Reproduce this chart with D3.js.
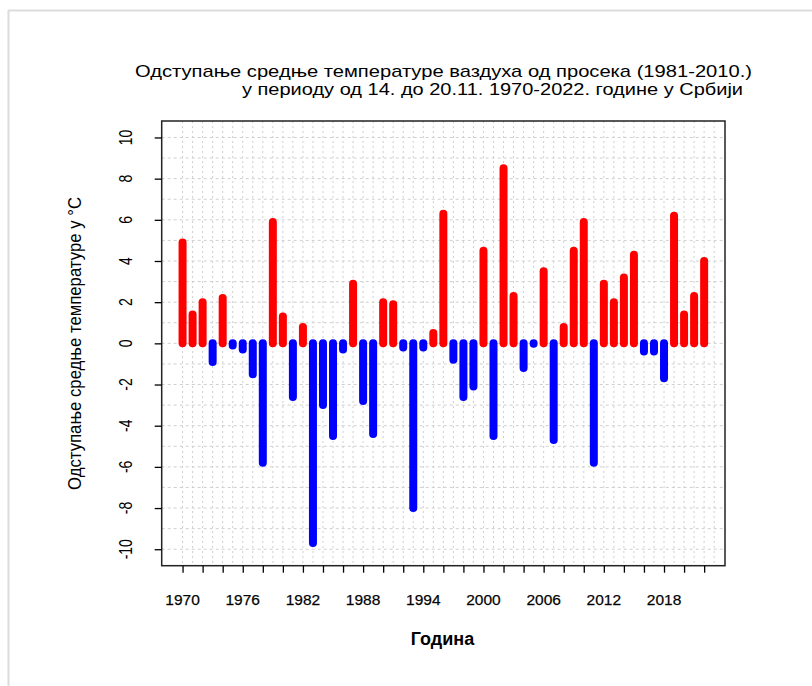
<!DOCTYPE html>
<html>
<head>
<meta charset="utf-8">
<script src="https://cdn.jsdelivr.net/npm/d3@7"></script>
<style>
  html, body { margin: 0; padding: 0; background: #fff; }
  svg { display: block; }
  text { font-family: "Liberation Sans", Arial, sans-serif; fill: #000; }
</style>
</head>
<body>
<svg id="chart" width="812" height="686"></svg>
<script>
const years = d3.range(1970, 2023);
const anomalies = [
  4.9, 1.4, 2.0, -0.9, 2.2, -0.1, -0.3, -1.5, -5.8, 5.9,
  1.3, -2.6, 0.8, -9.7, -3.0, -4.5, -0.3, 2.9, -2.8, -4.4,
  2.0, 1.9, -0.2, -8.0, -0.2, 0.5, 6.3, -0.8, -2.6, -2.1,
  4.5, -4.5, 8.5, 2.3, -1.2, -0.02, 3.5, -4.7, 0.8, 4.5,
  5.9, -5.8, 2.9, 2.0, 3.2, 4.3, -0.4, -0.4, -1.7, 6.2,
  1.4, 2.3, 4.0
];
const xTickValues = d3.range(1970, 2023, 2);
const xLabelValues = [1970, 1976, 1982, 1988, 1994, 2000, 2006, 2012, 2018];
const yTickValues = [-10, -8, -6, -4, -2, 0, 2, 4, 6, 8, 10];
const titleLines = [
  "Одступање средње температуре ваздуха од просека (1981-2010.)",
  "у периоду од 14. до 20.11. 1970-2022. године у Србији"
];
const yTitle = "Одступање средње температуре у °C";
const xTitle = "Година";

const svg = d3.select("#chart");
const L = 161.7, R = 725, T = 121, B = 565.7;

// outer light frame
svg.append("line").attr("x1", 8).attr("x2", 812).attr("y1", 10.5).attr("y2", 10.5)
  .attr("stroke", "#dcdcdc").attr("stroke-width", 2);
svg.append("line").attr("x1", 8.5).attr("x2", 8.5).attr("y1", 10).attr("y2", 686)
  .attr("stroke", "#dcdcdc").attr("stroke-width", 2);

const x = d3.scaleLinear().domain([1967.92, 2024.08]).range([L, R]);
const y = d3.scaleLinear().domain([-10.8, 10.8]).range([B, T]);

// grid
const g = svg.append("g");
g.selectAll(".hg").data(d3.range(-10, 11)).join("line")
  .attr("x1", L).attr("x2", R)
  .attr("y1", d => y(d)).attr("y2", d => y(d))
  .attr("stroke", "#cfcfcf").attr("stroke-width", 1).attr("stroke-dasharray", "3,3");
g.selectAll(".vg").data(d3.range(1970, 2024)).join("line")
  .attr("x1", d => x(d)).attr("x2", d => x(d))
  .attr("y1", T).attr("y2", B)
  .attr("stroke", "#cfcfcf").attr("stroke-width", 1).attr("stroke-dasharray", "2,3");

// bars
svg.append("g").selectAll("line").data(years.map((yr, i) => ({yr, v: anomalies[i]}))).join("line")
  .attr("x1", d => x(d.yr)).attr("x2", d => x(d.yr))
  .attr("y1", y(0)).attr("y2", d => y(d.v))
  .attr("stroke", d => d.v > 0 ? "#ff0000" : "#0000ff")
  .attr("stroke-width", 8).attr("stroke-linecap", "round");

// plot box
svg.append("rect").attr("x", L).attr("y", T).attr("width", R - L).attr("height", B - T)
  .attr("fill", "none").attr("stroke", "#222").attr("stroke-width", 1.5);

// x axis
const xAxis = d3.axisBottom(x).tickValues(xTickValues).tickSize(7).tickFormat("");
const xa = svg.append("g").attr("transform", `translate(0,${B})`).call(xAxis);
xa.select(".domain").remove();
xa.selectAll(".tick line").attr("stroke", "#000").attr("stroke-width", 1.3);
svg.append("g").selectAll("text").data(xLabelValues).join("text")
  .attr("x", d => x(d)).attr("y", 604.5).attr("text-anchor", "middle")
  .attr("font-size", 15.5).attr("fill", "#111").attr("stroke", "#111").attr("stroke-width", 0.25)
  .text(d => d);

// y axis
const yAxis = d3.axisLeft(y).tickValues(yTickValues).tickSize(7).tickFormat("");
const ya = svg.append("g").attr("transform", `translate(${L},0)`).call(yAxis);
ya.select(".domain").remove();
ya.selectAll(".tick line").attr("stroke", "#000").attr("stroke-width", 1.3);
svg.append("g").selectAll("text").data(yTickValues).join("text")
  .attr("transform", d => `translate(132,${y(d)}) rotate(-90) scale(1,1.3)`)
  .attr("text-anchor", "middle").attr("font-size", 14)
  .text(d => d);

// titles
svg.append("text").attr("x", 135).attr("y", 77).attr("font-size", 17)
  .attr("textLength", 617).attr("lengthAdjust", "spacingAndGlyphs").text(titleLines[0]);
svg.append("text").attr("x", 242).attr("y", 95).attr("font-size", 17)
  .attr("textLength", 501).attr("lengthAdjust", "spacingAndGlyphs").text(titleLines[1]);

svg.append("text").attr("transform", `translate(81,343.5) rotate(-90)`)
  .attr("text-anchor", "middle").attr("font-size", 18)
  .attr("textLength", 293).attr("lengthAdjust", "spacingAndGlyphs").text(yTitle);

svg.append("text").attr("x", 442.5).attr("y", 645).attr("text-anchor", "middle")
  .attr("font-size", 18).attr("font-weight", "bold").text(xTitle);
</script>
</body>
</html>
